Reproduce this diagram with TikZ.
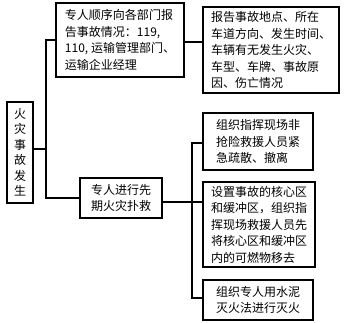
\documentclass[tikz,border=0pt]{standalone}
\usepackage{fontspec}
\newfontfamily\cjk{Noto Sans CJK SC}
\begin{document}
\begin{tikzpicture}[x=1pt,y=-1pt,
  box/.style={draw,line width=1.4pt,inner sep=0pt,align=left,font=\cjk\fontsize{12}{16.5}\selectfont},
  conn/.style={line width=1.1pt}]
\useasboundingbox (0,0) rectangle (350,323);
\node[box,minimum width=26pt,minimum height=101pt,align=center,font=\cjk\fontsize{12}{15.5}\selectfont] (b1) at (20,152.5) {火\\灾\\事\\故\\发\\生};
\node[box,minimum width=128pt,minimum height=74pt] (b2) at (120,40) {专人顺序向各部门报\\告事故情况：119,\\110, 运输管理部门、\\运输企业经理};
\node[box,minimum width=82pt,minimum height=40pt] (b3) at (121,198) {专人进行先\\期火灾扑救};
\node[box,minimum width=136pt,minimum height=86pt] (b4) at (271,50) {报告事故地点、所在\\车道方向、发生时间、\\车辆有无发生火灾、\\车型、车牌、事故原\\因、伤亡情况};
\node[box,minimum width=110pt,minimum height=57pt] (b5) at (258,141.5) {组织指挥现场非\\抢险救援人员紧\\急疏散、撤离};
\node[box,minimum width=112pt,minimum height=85pt] (b6) at (259,224.5) {设置事故的核心区\\和缓冲区，组织指\\挥现场救援人员先\\将核心区和缓冲区\\内的可燃物移去};
\node[box,minimum width=110pt,minimum height=40pt] (b7) at (258,300) {组织专人用水泥\\灭火法进行灭火};
\coordinate (ja) at (46,149);
\coordinate (jb) at (192,202);
\coordinate (y42) at (0,42);
\coordinate (y143) at (192,143);
\coordinate (y298) at (192,298);
\draw[conn] (b1.east |- ja) -- (ja);
\draw[conn] (b2.west) -| (ja) |- (b3.west);
\draw[conn] (b2.east |- y42) -- (b4.west |- y42);
\draw[conn] (b3.east |- jb) -- (b6.west |- jb);
\draw[conn] (b5.west |- y143) -- (y143) -- (y298) -- (b7.west |- y298);
\end{tikzpicture}
\end{document}
